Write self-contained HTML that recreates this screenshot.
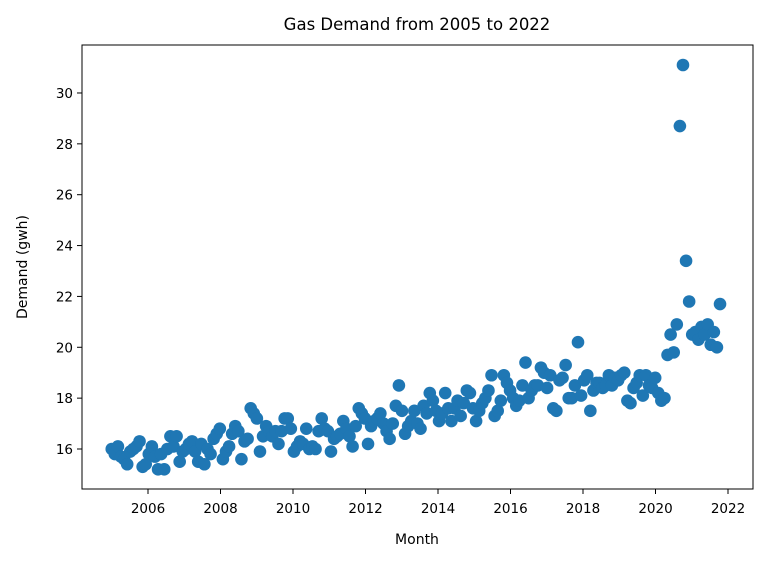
<!DOCTYPE html>
<html><head><meta charset="utf-8"><style>
body{margin:0;background:#fff}
svg text{font-family:"DejaVu Sans","Liberation Sans",sans-serif;fill:#000}
</style></head><body>
<svg id="chart" width="781" height="563" xmlns="http://www.w3.org/2000/svg">
<rect width="781" height="563" fill="#fff"/>
<text x="417" y="30" font-size="16.5" text-anchor="middle">Gas Demand from 2005 to 2022</text>
<text x="417" y="544" font-size="14" text-anchor="middle">Month</text>
<text x="27" y="267" font-size="14" text-anchor="middle" transform="rotate(-90 27 267)">Demand (gwh)</text>
<g id="points"></g>
<g id="axes"></g>
</svg>
<script>
const startYear = 2005;
const demand = [
16.0,15.8,16.1,15.7,15.6,15.4,15.9,16.0,16.1,16.3,15.3,15.4,
15.8,16.1,15.7,15.2,15.8,15.2,16.0,16.5,16.1,16.5,15.5,15.9,
16.0,16.2,16.3,15.9,15.5,16.2,15.4,16.0,15.8,16.4,16.6,16.8,15.6,15.9,
16.1,16.6,16.9,16.7,15.6,16.3,16.4,17.6,17.4,17.2,15.9,16.5,
16.9,16.7,16.5,16.7,16.2,16.7,17.2,17.2,16.8,15.9,16.1,16.3,
16.2,16.8,16.0,16.1,16.0,16.7,17.2,16.8,16.7,15.9,16.4,16.5,
16.6,17.1,16.8,16.5,16.1,16.9,17.6,17.4,17.2,16.2,16.9,17.1,
17.2,17.4,17.0,16.7,16.4,17.0,17.7,18.5,17.5,16.6,16.9,17.1,
17.5,17.0,16.8,17.7,17.4,18.2,17.9,17.5,17.1,17.4,18.2,17.6,
17.1,17.6,17.9,17.3,17.8,18.3,18.2,17.6,17.1,17.5,17.8,18.0,18.3,18.9,
17.3,17.5,17.9,18.9,18.6,18.3,18.0,17.7,17.9,18.5,19.4,18.0,18.3,
18.5,18.5,19.2,19.0,18.4,18.9,17.6,17.5,18.7,18.8,19.3,18.0,
18.0,18.5,20.2,18.1,18.7,18.9,17.5,18.3,18.6,18.6,18.4,18.5,
18.9,18.5,18.8,18.7,18.9,19.0,17.9,17.8,18.4,18.6,
18.9,18.1,18.9,18.5,18.4,18.8,18.2,
17.9,18.0,19.7,20.5,19.8,20.9,28.7,31.1,23.4,21.8,20.5,
20.6,20.3,20.8,20.5,20.9,20.1,20.6,20.0,21.7
];
const xTicks = [2006,2008,2010,2012,2014,2016,2018,2020,2022];
const yTicks = [16,18,20,22,24,26,28,30];
const L=82,R=753,T=45,B=489;
const endYear = 2021.78;
const xs = v => 148 + (v-2006)*36.25;
const ys = v => 449 - (v-16)*25.43;
const NS="http://www.w3.org/2000/svg";
const pg=document.getElementById('points');
const step=(endYear-startYear)/(demand.length-1);
demand.forEach((d,i)=>{
  const c=document.createElementNS(NS,'circle');
  c.setAttribute('cx',xs(startYear+i*step));c.setAttribute('cy',ys(d));
  c.setAttribute('r',6.3);c.setAttribute('fill','#1f77b4');
  
  
  pg.appendChild(c);
});
const ag=document.getElementById('axes');
const fr=document.createElementNS(NS,'rect');
fr.setAttribute('x',L);fr.setAttribute('y',T);fr.setAttribute('width',R-L);fr.setAttribute('height',B-T);
fr.setAttribute('fill','none');fr.setAttribute('stroke','#000');fr.setAttribute('stroke-width','1');


ag.appendChild(fr);
xTicks.forEach(t=>{
  const x=xs(t);
  const l=document.createElementNS(NS,'line');
  l.setAttribute('x1',x);l.setAttribute('x2',x);l.setAttribute('y1',B);l.setAttribute('y2',B+5);l.setAttribute('stroke','#000');
  
  
  ag.appendChild(l);
  const tx=document.createElementNS(NS,'text');
  tx.setAttribute('x',x);tx.setAttribute('y',B+24);tx.setAttribute('font-size','13.5');tx.setAttribute('text-anchor','middle');
  tx.textContent=t;
  
  
  ag.appendChild(tx);
});
yTicks.forEach(t=>{
  const y=ys(t);
  const l=document.createElementNS(NS,'line');
  l.setAttribute('x1',L-5);l.setAttribute('x2',L);l.setAttribute('y1',y);l.setAttribute('y2',y);l.setAttribute('stroke','#000');
  
  
  ag.appendChild(l);
  const tx=document.createElementNS(NS,'text');
  tx.setAttribute('x',L-9);tx.setAttribute('y',y+5);tx.setAttribute('font-size','13.5');tx.setAttribute('text-anchor','end');
  tx.textContent=t;
  
  
  ag.appendChild(tx);
});
</script>
</body></html>
